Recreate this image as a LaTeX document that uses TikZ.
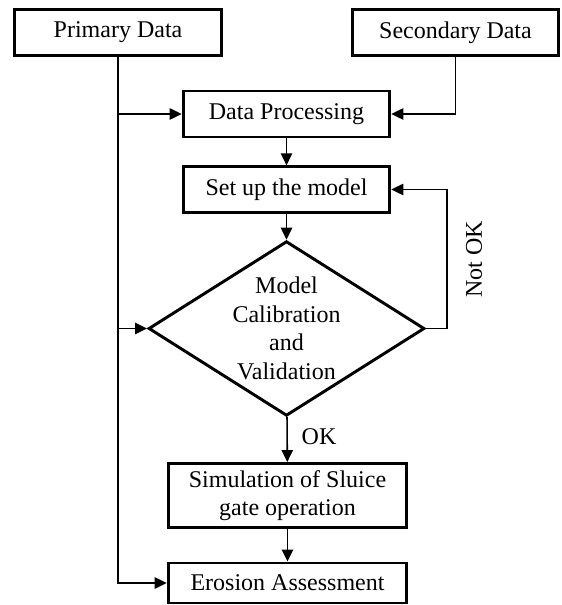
\documentclass[tikz,border=0pt]{standalone}
\usepackage{fontspec}
\setmainfont{Liberation Serif}
\usetikzlibrary{arrows.meta,shapes.geometric}

\begin{document}
\begin{tikzpicture}[x=0.75pt,y=-0.75pt,
    font=\fontsize{18}{21.5}\selectfont,
    box/.style={draw,line width=2.2pt,inner sep=0pt,align=center},
    arr/.style={line width=1.2pt,-{Triangle[length=9pt,width=8.5pt]}}]
  \useasboundingbox (0,0) rectangle (561,605);
  \node[box,minimum width=155pt,minimum height=35pt](prim) at (118,32.5){Primary Data};
  \node[box,minimum width=154pt,minimum height=34pt](sec) at (455.5,32.5){Secondary Data};
  \node[box,minimum width=155pt,minimum height=34.5pt](proc) at (286.5,114){Data Processing};
  \node[box,minimum width=155pt,minimum height=34pt](setup) at (286.5,189.5){Set up the model};
  \node[box,diamond,minimum width=207pt,minimum height=131pt,
    label={[align=center]center:Model\\Calibration\\and\\Validation}](calib) at (286.5,328.5){};
  \node[box,minimum width=179pt,minimum height=48pt](sim) at (287.5,495.5){Simulation of Sluice\\gate operation};
  \node[box,minimum width=179pt,minimum height=30pt](eros) at (287.5,583){Erosion Assessment};

  \draw[arr] (prim.south) |- (eros.west);
  \draw[arr] (prim.south |- proc.west) -- (proc.west);
  \draw[arr] (prim.south |- calib.west) -- (calib.west);
  \draw[arr] (sec.south) |- (proc.east);
  \draw[arr] (proc) -- (setup);
  \draw[arr] (setup) -- (calib);
  \draw[arr] (calib.east) -- ++(21,0) coordinate(back) |- (setup.east);
  \draw[arr] (calib) -- (sim);
  \draw[arr] (sim) -- (eros);
  \node[rotate=90](notok) at (474,259){Not OK};
  \node(ok) at (319,437){OK};
\end{tikzpicture}
\end{document}
